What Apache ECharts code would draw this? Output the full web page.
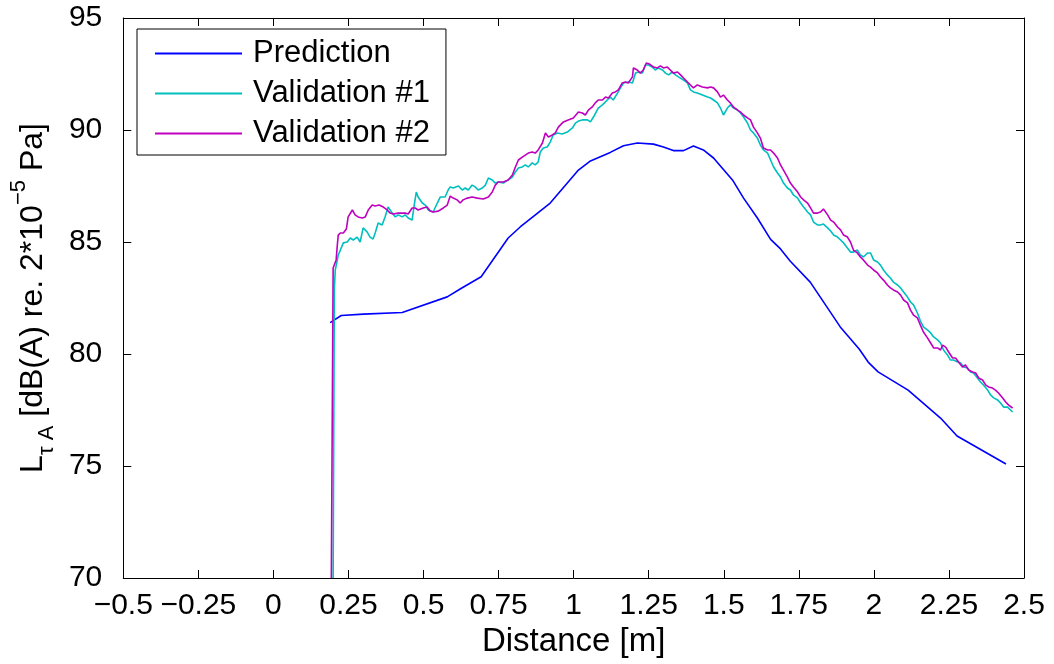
<!DOCTYPE html>
<html>
<head>
<meta charset="utf-8">
<title>Sound level along distance</title>
<script src="https://cdn.jsdelivr.net/npm/echarts@6/dist/echarts.min.js"></script>
<style>
  html, body { margin: 0; padding: 0; background: #fff; }
  #chart { width: 1054px; height: 664px; }
</style>
</head>
<body>
<div id="chart"></div>
<script>
// Axis ranges (distance in metres, level in dB(A))
const xRange = { min: -0.5, max: 2.5, step: 0.25 };
const yRange = { min: 70, max: 95, step: 5 };

const seriesNames = ['Prediction', 'Validation #1', 'Validation #2'];

// Predicted level, [distance m, level dB(A)]
const prediction = [
  [0.189,81.40],[0.226,81.72],[0.300,81.78],[0.429,81.85],[0.579,82.55],[0.622,82.90],
  [0.692,83.45],[0.782,85.18],[0.822,85.67],[0.922,86.74],[1.016,88.21],[1.056,88.62],
  [1.122,89.00],[1.166,89.30],[1.212,89.42],[1.266,89.37],[1.299,89.24],[1.332,89.08],
  [1.366,89.08],[1.399,89.29],[1.432,89.11],[1.466,88.75],[1.529,87.77],[1.566,86.96],
  [1.612,86.07],[1.656,85.12],[1.689,84.69],[1.721,84.15],[1.788,83.21],[1.821,82.55],
  [1.888,81.21],[1.951,80.22],[1.981,79.64],[2.014,79.20],[2.114,78.39],[2.222,77.14],
  [2.277,76.34],[2.440,75.09]
];

// Measured level, run 1
const validation1 = [
  [0.199,70.00],[0.203,82.86],[0.206,83.75],[0.213,84.20],[0.216,84.42],[0.223,84.64],[0.233,84.96],
  [0.246,85.00],[0.256,85.18],[0.266,85.09],[0.279,85.22],[0.289,85.00],[0.299,85.63],[0.312,85.45],
  [0.322,85.22],[0.332,85.13],[0.339,85.40],[0.349,85.85],[0.362,85.76],[0.372,86.12],[0.382,86.56],
  [0.396,86.29],[0.406,86.12],[0.416,86.21],[0.429,86.12],[0.439,86.21],[0.449,86.07],[0.462,85.98],
  [0.469,86.65],[0.476,87.23],[0.482,87.01],[0.496,86.74],[0.506,86.65],[0.516,86.43],[0.532,86.34],
  [0.546,86.74],[0.556,87.01],[0.572,87.01],[0.582,87.32],[0.589,87.46],[0.599,87.41],[0.616,87.50],
  [0.629,87.32],[0.639,87.41],[0.649,87.32],[0.662,87.54],[0.672,87.46],[0.682,87.32],[0.696,87.41],
  [0.706,87.54],[0.716,87.86],[0.729,87.77],[0.739,87.63],[0.749,87.68],[0.766,87.63],[0.782,87.77],
  [0.796,87.90],[0.806,88.13],[0.816,88.30],[0.829,88.35],[0.839,88.44],[0.849,88.35],[0.862,88.53],
  [0.872,88.44],[0.882,88.57],[0.889,89.02],[0.899,89.20],[0.912,89.24],[0.922,89.46],[0.932,89.78],
  [0.946,89.87],[0.962,89.82],[0.979,89.91],[0.996,90.09],[1.006,90.31],[1.016,90.40],[1.029,90.45],
  [1.046,90.45],[1.056,90.36],[1.066,90.58],[1.082,90.98],[1.096,91.12],[1.112,91.34],[1.122,91.47],
  [1.132,91.34],[1.146,91.65],[1.156,91.88],[1.166,92.10],[1.182,92.14],[1.196,92.10],[1.206,92.54],
  [1.216,92.59],[1.229,92.54],[1.239,92.90],[1.249,92.90],[1.262,92.81],[1.272,92.68],[1.282,92.77],
  [1.296,92.68],[1.306,92.54],[1.316,92.46],[1.329,92.59],[1.339,92.46],[1.349,92.37],[1.366,92.23],
  [1.379,92.10],[1.389,91.79],[1.399,91.70],[1.412,91.65],[1.429,91.56],[1.446,91.47],[1.456,91.43],
  [1.466,91.34],[1.479,91.21],[1.489,90.98],[1.499,90.67],[1.512,90.98],[1.522,91.12],[1.532,90.98],
  [1.546,90.89],[1.556,90.76],[1.566,90.58],[1.579,90.31],[1.589,90.00],[1.599,89.87],[1.612,89.64],
  [1.622,89.33],[1.632,89.11],[1.646,88.97],[1.656,88.66],[1.666,88.35],[1.679,88.08],[1.689,87.90],
  [1.699,87.63],[1.712,87.41],[1.722,87.32],[1.732,87.10],[1.746,86.96],[1.756,86.74],[1.766,86.56],
  [1.779,86.34],[1.789,86.21],[1.799,85.89],[1.812,85.76],[1.822,85.76],[1.832,85.80],[1.846,85.63],
  [1.856,85.49],[1.866,85.31],[1.879,85.22],[1.889,85.09],[1.899,84.96],[1.912,84.73],[1.922,84.55],
  [1.932,84.55],[1.945,84.64],[1.955,84.42],[1.965,84.33],[1.979,84.51],[1.989,84.51],[1.999,84.20],
  [2.012,84.11],[2.022,83.97],[2.032,83.75],[2.045,83.53],[2.055,83.39],[2.065,83.21],[2.079,83.08],
  [2.089,82.95],[2.099,82.77],[2.112,82.54],[2.122,82.32],[2.132,82.19],[2.145,81.83],[2.155,81.47],
  [2.165,81.21],[2.179,81.07],[2.189,80.94],[2.199,80.76],[2.212,80.63],[2.222,80.49],[2.232,80.18],
  [2.245,79.96],[2.255,79.73],[2.265,79.73],[2.279,79.64],[2.289,79.60],[2.299,79.42],[2.312,79.38],
  [2.322,79.20],[2.332,79.15],[2.345,78.93],[2.355,78.75],[2.365,78.62],[2.379,78.39],[2.389,78.17],
  [2.399,78.04],[2.412,77.95],[2.422,77.81],[2.432,77.63],[2.445,77.63],[2.455,77.50],[2.462,77.41]
];

// Measured level, run 2
const validation2 = [
  [0.193,70.00],[0.199,83.84],[0.209,84.20],[0.213,84.87],[0.216,85.31],[0.223,85.40],[0.233,85.40],
  [0.243,85.58],[0.249,86.12],[0.263,86.43],[0.272,86.21],[0.282,86.12],[0.296,86.07],[0.306,86.12],
  [0.316,86.43],[0.329,86.65],[0.339,86.61],[0.352,86.65],[0.366,86.56],[0.379,86.43],[0.389,86.29],
  [0.399,86.25],[0.416,86.29],[0.429,86.29],[0.439,86.29],[0.449,86.25],[0.462,86.52],[0.472,86.52],
  [0.482,86.43],[0.499,86.52],[0.512,86.56],[0.522,86.38],[0.532,86.34],[0.549,86.38],[0.566,86.52],
  [0.579,86.65],[0.589,87.05],[0.599,86.96],[0.612,86.88],[0.622,86.74],[0.632,86.88],[0.646,86.96],
  [0.662,87.01],[0.679,86.96],[0.699,86.92],[0.716,87.01],[0.729,87.23],[0.739,87.54],[0.749,87.68],
  [0.766,87.68],[0.782,87.77],[0.796,87.99],[0.806,88.35],[0.816,88.66],[0.829,88.79],[0.839,88.88],
  [0.849,88.97],[0.862,89.02],[0.872,88.97],[0.882,89.11],[0.896,89.42],[0.906,89.87],[0.916,89.69],
  [0.929,89.78],[0.939,89.87],[0.949,90.13],[0.966,90.36],[0.982,90.45],[0.999,90.54],[1.016,90.80],
  [1.029,90.76],[1.039,90.67],[1.049,90.89],[1.062,91.03],[1.072,91.21],[1.082,91.34],[1.096,91.34],
  [1.106,91.47],[1.116,91.43],[1.129,91.65],[1.139,91.70],[1.149,91.79],[1.162,92.10],[1.172,92.14],
  [1.182,92.10],[1.196,92.37],[1.199,92.77],[1.212,92.68],[1.222,92.54],[1.232,92.68],[1.242,92.99],
  [1.252,92.95],[1.266,92.81],[1.279,92.77],[1.289,92.86],[1.299,92.77],[1.312,92.81],[1.322,92.68],
  [1.332,92.54],[1.346,92.59],[1.356,92.46],[1.366,92.32],[1.379,92.14],[1.389,92.01],[1.399,91.88],
  [1.412,92.01],[1.429,91.92],[1.446,91.88],[1.456,91.92],[1.466,91.88],[1.479,91.70],[1.489,91.47],
  [1.499,91.56],[1.512,91.34],[1.522,91.21],[1.532,91.03],[1.546,90.89],[1.556,90.80],[1.566,90.67],
  [1.579,90.54],[1.589,90.45],[1.599,90.13],[1.612,89.87],[1.622,89.64],[1.632,89.20],[1.646,89.11],
  [1.656,89.11],[1.666,88.97],[1.679,88.75],[1.689,88.44],[1.699,88.21],[1.712,87.90],[1.722,87.63],
  [1.732,87.46],[1.746,87.23],[1.756,87.01],[1.766,86.88],[1.779,86.74],[1.789,86.52],[1.799,86.29],
  [1.812,86.29],[1.822,86.34],[1.832,86.47],[1.846,86.21],[1.856,85.98],[1.866,85.89],[1.879,85.67],
  [1.889,85.54],[1.899,85.31],[1.912,85.22],[1.922,85.00],[1.932,84.64],[1.945,84.51],[1.955,84.33],
  [1.965,84.20],[1.979,83.97],[1.989,83.88],[1.999,83.75],[2.012,83.62],[2.022,83.44],[2.032,83.30],
  [2.045,83.08],[2.055,82.95],[2.065,82.86],[2.079,82.77],[2.089,82.63],[2.099,82.41],[2.112,82.28],
  [2.122,81.96],[2.132,81.74],[2.145,81.61],[2.155,81.29],[2.165,80.98],[2.179,80.71],[2.189,80.49],
  [2.199,80.27],[2.212,80.27],[2.222,80.18],[2.229,80.40],[2.239,80.31],[2.249,80.09],[2.262,79.82],
  [2.272,79.82],[2.282,79.64],[2.295,79.42],[2.305,79.51],[2.315,79.29],[2.329,79.20],[2.339,79.15],
  [2.349,78.93],[2.362,78.84],[2.372,78.62],[2.382,78.53],[2.395,78.48],[2.405,78.39],[2.415,78.26],
  [2.429,78.04],[2.439,77.86],[2.449,77.72],[2.462,77.59]
];

const colors = ['#0000ff', '#00bfbf', '#bf00bf'];
const font = 'Liberation Sans, Arial, Helvetica, sans-serif';
const tickFont = 30;

const minusSign = v => String(v).replace('-', '\u2212');

const boxAxis = {
  axisLine: { show: true, onZero: false, lineStyle: { color: '#000', width: 1 } },
  axisTick: { show: true, inside: true, length: 8, lineStyle: { color: '#000', width: 1 } },
  splitLine: { show: false }
};

const chart = echarts.init(document.getElementById('chart'), null, { renderer: 'canvas' });

chart.setOption({
  animation: false,
  backgroundColor: '#fff',
  color: colors,
  textStyle: { fontFamily: font },
  grid: { left: 123, right: 30, top: 18, bottom: 86, containLabel: false },
  legend: {
    data: seriesNames,
    orient: 'vertical',
    left: 137,
    top: 29,
    icon: 'rect',
    itemWidth: 87,
    itemHeight: 2,
    itemGap: 9,
    padding: [9, 16, 6, 18],
    backgroundColor: '#fff',
    borderColor: '#000',
    borderWidth: 1,
    borderRadius: 0,
    textStyle: { fontFamily: font, fontSize: 31, color: '#000', lineHeight: 31, padding: [0, 0, 0, 6] }
  },
  xAxis: [
    Object.assign({}, boxAxis, {
      type: 'value', position: 'bottom',
      min: xRange.min, max: xRange.max, interval: xRange.step,
      name: 'Distance [m]', nameLocation: 'middle', nameGap: 42,
      nameTextStyle: { fontFamily: font, fontSize: 33, color: '#000' },
      axisLabel: { fontFamily: font, fontSize: tickFont, color: '#000', margin: 13, formatter: minusSign }
    }),
    Object.assign({}, boxAxis, {
      type: 'value', position: 'top',
      min: xRange.min, max: xRange.max, interval: xRange.step,
      axisLabel: { show: false }
    })
  ],
  yAxis: [
    Object.assign({}, boxAxis, {
      type: 'value', position: 'left',
      min: yRange.min, max: yRange.max, interval: yRange.step,
      name: '{m|L}{s|\u03c4 A}{m| [dB(A) re. 2*10}{p|\u22125}{m| Pa]}',
      nameLocation: 'middle', nameRotate: 90, nameGap: 62,
      nameTextStyle: {
        fontFamily: font, color: '#000',
        rich: {
          m: { fontFamily: font, fontSize: 32, color: '#000', lineHeight: 50, verticalAlign: 'middle' },
          s: { fontFamily: font, fontSize: 22, color: '#000', lineHeight: 24, verticalAlign: 'bottom' },
          p: { fontFamily: font, fontSize: 22, color: '#000', lineHeight: 24, verticalAlign: 'top' }
        }
      },
      axisLabel: { fontFamily: font, fontSize: tickFont, color: '#000', margin: 21 }
    }),
    Object.assign({}, boxAxis, {
      type: 'value', position: 'right',
      min: yRange.min, max: yRange.max, interval: yRange.step,
      axisLabel: { show: false }
    })
  ],
  series: [
    { name: seriesNames[0], type: 'line', data: prediction, symbol: 'none', lineStyle: { width: 1.6 }, z: 2 },
    { name: seriesNames[1], type: 'line', data: validation1, symbol: 'none', lineStyle: { width: 1.6 }, z: 3 },
    { name: seriesNames[2], type: 'line', data: validation2, symbol: 'none', lineStyle: { width: 1.6 }, z: 4 }
  ]
});
</script>
</body>
</html>
